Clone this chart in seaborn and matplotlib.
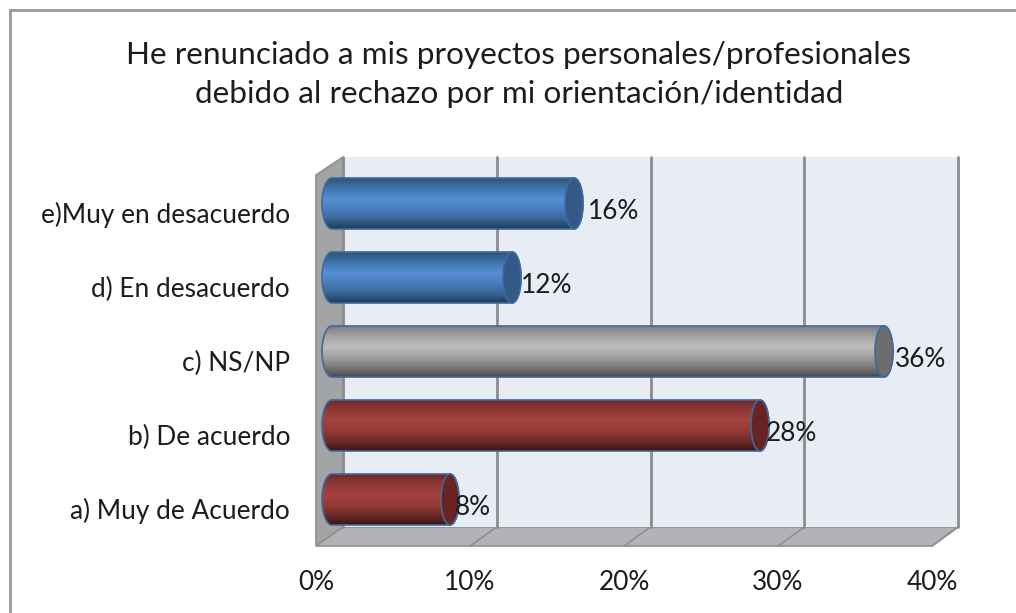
import numpy as np
import matplotlib
matplotlib.use("Agg")
import matplotlib.pyplot as plt
from matplotlib.patches import Polygon, Rectangle, PathPatch
from matplotlib.path import Path
from matplotlib.colors import LinearSegmentedColormap
from matplotlib.transforms import ScaledTranslation
from matplotlib.ticker import FuncFormatter
import pandas as pd
import seaborn as sns

categories = ["e)Muy en desacuerdo", "d) En desacuerdo", "c) NS/NP", "b) De acuerdo", "a) Muy de Acuerdo"]
values = [16, 12, 36, 28, 8]
bar_groups = ["blue", "blue", "grey", "red", "red"]
title_lines = "He renunciado a mis proyectos personales/profesionales\ndebido al rechazo por mi orientación/identidad"
x_ticks = [0, 10, 20, 30, 40]

W, H = 1016, 613
TEXT = "#1c1c1c"
LABEL_SIZE = 18.9
sns.set_style("white")
plt.rcParams["font.family"] = ["Lato", "DejaVu Sans"]

ramps = {
    "blue": ["#2f5378", "#3f74ad", "#568fd4", "#4a7fbe", "#3a6798", "#1f3a58"],
    "grey": ["#7f7f7f", "#a3a3a3", "#bdbdbd", "#a3a3a3", "#7c7c7c", "#4a4a4a"],
    "red": ["#6d2a28", "#903836", "#a64240", "#953a38", "#6f2b29", "#3a1514"],
}
cap_colors = {"blue": "#335a86", "grey": "#6d6d6d", "red": "#682423"}
edge_color = "#3d6a9c"
label_nudge_px = [4, -1, 1, -4, -5]

def px_axes(x0, y0, x1, y1, **kw):
    return fig.add_axes([x0 / W, 1 - y1 / H, (x1 - x0) / W, (y1 - y0) / H], **kw)

fig = plt.figure(figsize=(W / 100, H / 100), dpi=100, facecolor="white")

# chart frame and 3-D walls in pixel space
bg = px_axes(0, 0, W, H)
bg.set_xlim(0, W); bg.set_ylim(H, 0); bg.axis("off")
bg.add_patch(Rectangle((9.5, 10), 1100, 700, fc="white", ec="#999999", lw=2))

FL, FR, FB, FT = 316, 932, 546, 175
BL, BR, BB, BT = 343, 958, 527, 157
bg.add_patch(Polygon([(FL, FT), (BL, BT), (BL, BB), (FL, FB)], fc="#a3a4a6", ec="#8f8f8f", lw=1.2))
bg.add_patch(Polygon([(FL, FB), (BL, BB), (BR, BB), (FR, FB)], fc="#b1b3b7", ec="#8f8f8f", lw=1.2))

# back wall with gridlines
back = px_axes(BL, BT, BR, BB)
back.set_facecolor("#e8ecf5")
back.set_xlim(0, 40); back.set_ylim(0, 1)
back.set_xticks(x_ticks); back.set_yticks([])
back.tick_params(length=0, labelbottom=False)
back.grid(axis="x", color="#8c8c8c", lw=2)
for line in back.get_xgridlines():
    line.set_clip_on(False)
for s in back.spines.values():
    s.set_visible(False)
for t in x_ticks[1:]:
    f = t / 40
    bg.plot([FL + f * (FR - FL), BL + f * (BR - BL)], [FB, BB], color="#8f8f8f", lw=1.2)

# front axis: tick labels
front = px_axes(FL, FT, FR, FB, facecolor="none")
front.set_xlim(0, 40); front.set_yticks([])
front.set_xticks(x_ticks)
front.xaxis.set_major_formatter(FuncFormatter(lambda v, _: f"{v:.0f}%"))
front.tick_params(axis="x", length=0, pad=17.5, labelsize=LABEL_SIZE, labelcolor=TEXT)
for s in front.spines.values():
    s.set_visible(False)

# bars
SPACING, BAR_H = 74, 51
C0 = 203.5
SCALE, X0 = 15.5, 326
AX_LEFT = 306
XMIN = (AX_LEFT - X0) / SCALE
bars = px_axes(AX_LEFT, C0 - SPACING / 2, X0 + 40 * SCALE, C0 + 4.5 * SPACING, facecolor="none")
df = pd.DataFrame({"cat": categories, "val": values, "group": bar_groups})
sns.barplot(data=df, y="cat", x="val", hue="group", dodge=False, legend=False,
            palette={k: v[2] for k, v in ramps.items()}, width=BAR_H / SPACING,
            order=categories, ax=bars, linewidth=0)
bars.set_xlim(XMIN, 40); bars.set_ylim(4.5, -0.5)
bars.set_xticks([]); bars.set_xlabel(""); bars.set_ylabel("")
for s in bars.spines.values():
    s.set_visible(False)
bars.tick_params(axis="y", length=0, pad=16 / 100 * 72, labelsize=LABEL_SIZE, labelcolor=TEXT)
off = ScaledTranslation(0, -9 / 100, fig.dpi_scale_trans)
for lab in bars.get_yticklabels():
    lab.set_transform(lab.get_transform() + off)

LEFT_RX = 10 / SCALE
RIGHT_RX = 9 / SCALE
LEFT_SHIFT = 6 / SCALE

def capsule(x_left, x_right, y0, y1):
    k = 0.5523
    ym = (y0 + y1) / 2
    ry = (y1 - y0) / 2
    verts = [(x_left, y0), (x_right, y0),
             (x_right + k * RIGHT_RX, y0), (x_right + RIGHT_RX, ym - k * ry), (x_right + RIGHT_RX, ym),
             (x_right + RIGHT_RX, ym + k * ry), (x_right + k * RIGHT_RX, y1), (x_right, y1),
             (x_left, y1),
             (x_left - k * LEFT_RX, y1), (x_left - LEFT_RX, ym + k * ry), (x_left - LEFT_RX, ym),
             (x_left - LEFT_RX, ym - k * ry), (x_left - k * LEFT_RX, y0), (x_left, y0), (x_left, y0)]
    codes = [Path.MOVETO, Path.LINETO, Path.CURVE4, Path.CURVE4, Path.CURVE4, Path.CURVE4, Path.CURVE4, Path.CURVE4,
             Path.LINETO, Path.CURVE4, Path.CURVE4, Path.CURVE4, Path.CURVE4, Path.CURVE4, Path.CURVE4, Path.CLOSEPOLY]
    return Path(verts, codes)

def ellipse_path(xc, y0, y1):
    t = np.linspace(0, 2 * np.pi, 60)
    return np.column_stack([xc + RIGHT_RX * np.cos(t), (y0 + y1) / 2 + (y1 - y0) / 2 * np.sin(t)])

patches = [p for p in bars.patches if p.get_width() > 0]
for p in patches:
    yc = p.get_y() + p.get_height() / 2
    i = int(round(yc))
    group = bar_groups[i]
    val = p.get_width()
    y0, y1 = p.get_y(), p.get_y() + p.get_height()
    outline = capsule(LEFT_SHIFT, val, y0, y1)
    cm = LinearSegmentedColormap.from_list(group, ramps[group])
    grad = np.linspace(0, 1, 128).reshape(-1, 1)
    im = bars.imshow(grad, cmap=cm, extent=(XMIN, val + 1, y1, y0), aspect="auto", zorder=3)
    clip = PathPatch(outline, transform=bars.transData, fc="none", ec="none")
    bars.add_patch(clip)
    im.set_clip_path(clip)
    p.set_clip_path(clip)
    bars.add_patch(PathPatch(outline, fc="none", ec=edge_color, lw=1.2, zorder=4))
    bars.add_patch(Polygon(ellipse_path(val, y0, y1), closed=True, fc=cap_colors[group], ec=edge_color, lw=1.2, zorder=5))
    bars.annotate(f"{values[i]}%", (val, yc),
                  xytext=((10 + label_nudge_px[i]) * 0.72, -5.5), textcoords="offset points",
                  ha="left", va="center", fontsize=LABEL_SIZE, color=TEXT, zorder=6, annotation_clip=False)
bars.set_xlim(XMIN, 40); bars.set_ylim(4.5, -0.5)

fig.text(519 / W, 1 - 74.5 / H, title_lines, ha="center", va="center", fontsize=22.66,
         color=TEXT, linespacing=1.44)

fig.savefig("out.png", dpi=100, facecolor="white")
